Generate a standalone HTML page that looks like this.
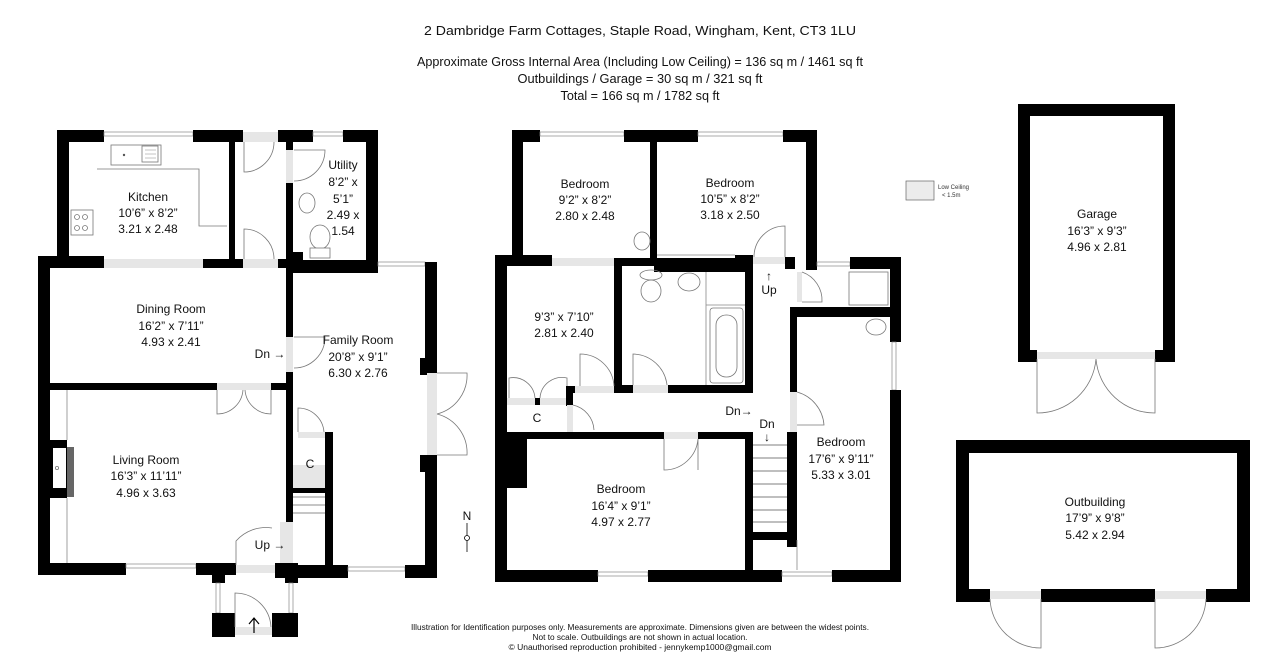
<!DOCTYPE html>
<html><head><meta charset="utf-8"><style>
html,body{margin:0;padding:0;background:#fff;}
svg{display:block;font-family:"Liberation Sans",sans-serif;}
.w{fill:#000}
.g{fill:#e6e6e6}
.d{fill:none;stroke:#777;stroke-width:0.8}
.win{fill:#fff;stroke:#888;stroke-width:0.7}
.t{font-size:12px;text-anchor:middle;fill:#111;dominant-baseline:central}
.s{font-size:12.5px;text-anchor:middle;fill:#111}
.f{font-size:8px;text-anchor:middle;fill:#111}
</style></head><body>
<svg width="1280" height="667" viewBox="0 0 1280 667" xmlns="http://www.w3.org/2000/svg">
<text class="s" x="640" y="35" font-size="13" textLength="432" lengthAdjust="spacingAndGlyphs">2 Dambridge Farm Cottages, Staple Road, Wingham, Kent, CT3 1LU</text>
<text class="s" x="640" y="66" textLength="446" lengthAdjust="spacingAndGlyphs">Approximate Gross Internal Area (Including Low Ceiling) = 136 sq m / 1461 sq ft</text>
<text class="s" x="640" y="83" textLength="245" lengthAdjust="spacingAndGlyphs">Outbuildings / Garage = 30 sq m / 321 sq ft</text>
<text class="s" x="640" y="100" textLength="159" lengthAdjust="spacingAndGlyphs">Total = 166 sq m / 1782 sq ft</text>

<rect class="w" x="57" y="130" width="47" height="12"/>
<rect class="win" x="104" y="132" width="89" height="4"/>
<rect class="w" x="193" y="130" width="50" height="12"/>
<rect class="g" x="243" y="132" width="35" height="10"/>
<rect class="w" x="278" y="130" width="35" height="12"/>
<rect class="win" x="313" y="132" width="30" height="4"/>
<rect class="w" x="343" y="130" width="35" height="12"/>
<rect class="w" x="57" y="130" width="12" height="138"/>
<rect class="w" x="229" y="142" width="6" height="126"/>
<rect class="w" x="366" y="130" width="12" height="142"/>
<rect class="w" x="286" y="142" width="7" height="8"/>
<rect class="g" x="286" y="150" width="7" height="33"/>
<rect class="w" x="286" y="183" width="7" height="95"/>
<rect class="w" x="286" y="252" width="17" height="20"/>
<rect class="w" x="293" y="260" width="85" height="12"/>
<rect class="w" x="38" y="256" width="66" height="12"/>
<rect class="g" x="104" y="259" width="99" height="9"/>
<rect class="w" x="203" y="259" width="40" height="9"/>
<rect class="g" x="243" y="259" width="35" height="9"/>
<rect class="w" x="278" y="259" width="15" height="9"/>
<rect x="142" y="146" width="16" height="16" fill="#fff" stroke="#777" stroke-width="0.8"/>
<rect x="111" y="145" width="50" height="20" fill="none" stroke="#777" stroke-width="0.8"/>
<circle cx="124" cy="155" r="1.2" fill="#555"/>
<g stroke="#888" stroke-width="0.5"><line x1="145" y1="150" x2="156" y2="150"/><line x1="145" y1="154" x2="156" y2="154"/><line x1="145" y1="158" x2="156" y2="158"/></g>
<path class="d" d="M97,169 H199 V226 H227"/>
<rect x="71" y="210" width="22" height="25" fill="#fff" stroke="#777" stroke-width="0.8"/>
<circle cx="77" cy="217" r="2.5" class="d"/><circle cx="85" cy="217" r="2.5" class="d"/>
<circle cx="77" cy="228" r="2.5" class="d"/><circle cx="85" cy="228" r="2.5" class="d"/>
<path class="d" d="M244,142 V172 A30,30 0 0 0 274,142"/>
<path class="d" d="M244,259 V229 A30,30 0 0 1 274,259"/>
<path class="d" d="M294,150 H325 A31,31 0 0 1 294,181"/>
<ellipse cx="307" cy="203" rx="8" ry="10" class="d"/>
<ellipse cx="320" cy="237" rx="10" ry="12" class="d"/>
<rect x="310" y="248" width="20" height="10" fill="#fff" stroke="#777" stroke-width="0.8"/>
<rect class="w" x="38" y="256" width="12" height="318"/>
<rect class="w" x="286" y="268" width="7" height="69"/>
<rect class="g" x="286" y="337" width="7" height="35"/>
<rect class="w" x="286" y="372" width="7" height="150"/>
<rect class="g" x="280" y="522" width="13" height="43"/>
<path class="d" d="M294,337 H325 A31,31 0 0 1 294,368"/>
<rect class="w" x="38" y="383" width="179" height="7"/>
<rect class="g" x="217" y="383" width="54" height="7"/>
<rect class="w" x="271" y="383" width="22" height="7"/>
<path class="d" d="M217,390 V414 A26,26 0 0 0 243,390 M271,390 V414 A26,26 0 0 1 245,390"/>
<rect class="w" x="50" y="440" width="17" height="58"/>
<rect x="53" y="448" width="13" height="40" fill="#fff"/>
<circle cx="57" cy="468" r="1.6" class="d"/>
<rect x="67" y="447" width="7" height="50" fill="#666"/>
<line x1="67" y1="390" x2="67" y2="440" stroke="#888" stroke-width="0.8"/>
<line x1="67" y1="498" x2="67" y2="563" stroke="#888" stroke-width="0.8"/>
<rect class="w" x="38" y="563" width="88" height="12"/>
<rect class="win" x="126" y="564" width="70" height="4"/>
<rect class="w" x="196" y="563" width="40" height="12"/>
<rect class="g" x="236" y="565" width="39" height="8"/>
<rect class="w" x="275" y="563" width="23" height="15"/>
<path class="d" d="M236,565 V541 A40,40 0 0 1 272,528"/>
<rect class="w" x="293" y="260" width="85" height="13"/>
<rect class="win" x="378" y="262" width="47" height="4"/>
<rect class="w" x="425" y="262" width="12" height="111"/>
<rect class="w" x="420" y="358" width="10" height="17"/>
<rect class="g" x="427" y="373" width="10" height="82"/>
<rect class="w" x="425" y="455" width="12" height="123"/>
<rect class="w" x="420" y="455" width="10" height="17"/>
<path class="d" d="M437,373 H467 A40,40 0 0 1 437,414 M437,455 H467 A40,40 0 0 0 437,414"/>
<rect class="w" x="293" y="565" width="55" height="13"/>
<rect class="win" x="348" y="567" width="57" height="4"/>
<rect class="w" x="405" y="565" width="32" height="13"/>
<rect class="g" x="298" y="432" width="27" height="6"/>
<path class="d" d="M298,432 V408 A26,26 0 0 1 324,432"/>
<rect class="w" x="325" y="432" width="8" height="136"/>
<rect class="g" x="293" y="465" width="32" height="23"/>
<rect class="w" x="293" y="488" width="32" height="5"/>
<g stroke="#666" stroke-width="0.8"><line x1="293" y1="497" x2="325" y2="497"/><line x1="293" y1="505" x2="325" y2="505"/><line x1="293" y1="513" x2="325" y2="513"/></g>
<rect class="w" x="212" y="568" width="13" height="15"/>
<rect class="w" x="285" y="568" width="13" height="15"/>
<rect class="win" x="216" y="583" width="4" height="30"/>
<rect class="win" x="289" y="583" width="4" height="30"/>
<rect class="w" x="212" y="613" width="23" height="24"/>
<rect class="w" x="272" y="613" width="26" height="24"/>
<rect class="g" x="235" y="627" width="37" height="8"/>
<path class="d" d="M235,627 V593 A36,36 0 0 1 271,627"/>
<path d="M254,633 V618 M249,624 L254,618 L259,624" stroke="#000" fill="none" stroke-width="1.2"/>

<g class="t">
<text x="148" y="197">Kitchen</text><text x="148" y="213">10’6” x 8’2”</text><text x="148" y="229">3.21 x 2.48</text>
<text x="343" y="165">Utility</text><text x="343" y="182">8’2” x</text><text x="343" y="199">5’1”</text><text x="343" y="215">2.49 x</text><text x="343" y="231">1.54</text>
<text x="171" y="309">Dining Room</text><text x="171" y="326">16’2” x 7’11”</text><text x="171" y="342">4.93 x 2.41</text>
<text x="358" y="340">Family Room</text><text x="358" y="357">20’8” x 9’1”</text><text x="358" y="373">6.30 x 2.76</text>
<text x="146" y="460">Living Room</text><text x="146" y="476">16’3” x 11’11”</text><text x="146" y="493">4.96 x 3.63</text>
<text x="310" y="464">C</text>
<text x="270" y="354">Dn →</text>
<text x="270" y="545">Up →</text>
</g>

<rect class="w" x="512" y="130" width="28" height="12"/>
<rect class="win" x="540" y="132" width="84" height="4"/>
<rect class="w" x="624" y="130" width="74" height="12"/>
<rect class="win" x="698" y="132" width="85" height="4"/>
<rect class="w" x="783" y="130" width="34" height="12"/>
<rect class="w" x="512" y="130" width="11" height="130"/>
<rect class="w" x="650" y="130" width="7" height="128"/>
<rect class="w" x="806" y="130" width="11" height="140"/>
<ellipse cx="642" cy="241" rx="8" ry="9" class="d"/>
<line x1="657" y1="255" x2="735" y2="255" stroke="#888" stroke-width="0.8"/>
<rect class="w" x="495" y="255" width="57" height="11"/>
<rect class="g" x="552" y="258" width="66" height="8"/>
<rect class="w" x="618" y="258" width="36" height="8"/>
<rect class="w" x="654" y="258" width="99" height="14"/>
<rect class="w" x="735" y="255" width="18" height="8"/>
<rect class="g" x="753" y="257" width="32" height="7"/>
<path class="d" d="M785,257 V226 A31,31 0 0 0 754,257"/>
<rect class="w" x="785" y="257" width="10" height="12"/>
<rect class="win" x="817" y="262" width="33" height="4"/>
<rect class="w" x="850" y="257" width="50" height="12"/>
<rect class="w" x="890" y="257" width="11" height="85"/>
<rect class="win" x="892" y="342" width="4" height="48"/>
<rect class="w" x="890" y="390" width="11" height="192"/>
<rect class="w" x="614" y="258" width="8" height="134"/>
<rect class="w" x="745" y="258" width="8" height="134"/>
<rect class="w" x="614" y="385" width="19" height="8"/>
<rect class="g" x="633" y="385" width="35" height="8"/>
<rect class="w" x="668" y="385" width="85" height="8"/>
<path class="d" d="M633,385 V354 A35,35 0 0 1 667,385"/>
<ellipse cx="651" cy="291" rx="10" ry="11" class="d"/>
<ellipse cx="651" cy="275" rx="11" ry="5" class="d"/>
<ellipse cx="689" cy="282" rx="11" ry="9" class="d"/>
<line x1="706" y1="272" x2="706" y2="385" stroke="#888" stroke-width="0.8"/>
<rect x="710" y="308" width="33" height="75" rx="3" class="d"/>
<rect x="716" y="315" width="21" height="62" rx="10" class="d"/>
<line x1="706" y1="305" x2="745" y2="305" stroke="#888" stroke-width="0.8"/>
<rect class="w" x="495" y="255" width="12" height="327"/>
<rect class="w" x="566" y="386" width="9" height="7"/>
<rect class="g" x="575" y="386" width="39" height="7"/>
<path class="d" d="M580,386 V354 A34,34 0 0 1 614,386"/>
<rect class="g" x="507" y="398" width="60" height="7"/>
<rect class="w" x="535" y="398" width="5" height="7"/>
<path class="d" d="M509,398 V378 A22,22 0 0 1 535,398 M567,398 V378 A22,22 0 0 0 540,398"/>
<rect class="w" x="566" y="386" width="7" height="20"/>
<rect class="g" x="567" y="405" width="6" height="27"/>
<path class="d" d="M573,405 A27,27 0 0 1 594,430"/>
<rect class="w" x="507" y="432" width="157" height="7"/>
<rect class="g" x="664" y="432" width="34" height="7"/>
<rect class="w" x="698" y="432" width="54" height="7"/>
<path class="d" d="M664,439 V470 A34,34 0 0 0 698,439 V470"/>
<rect class="w" x="507" y="438" width="20" height="50"/>
<rect class="w" x="745" y="432" width="8" height="150"/>
<rect class="w" x="787" y="432" width="10" height="115"/>
<rect class="w" x="790" y="310" width="7" height="82"/>
<rect class="g" x="790" y="392" width="7" height="40"/>
<path class="d" d="M797,392 A37,37 0 0 1 824,425 H797"/>
<rect class="w" x="790" y="307" width="110" height="10"/>
<rect class="g" x="797" y="272" width="5" height="30"/>
<path class="d" d="M802,272 A30,30 0 0 1 822,302 H802"/>
<g stroke="#555" stroke-width="0.8">
<line x1="753" y1="445" x2="787" y2="445"/><line x1="753" y1="458" x2="787" y2="458"/>
<line x1="753" y1="471" x2="787" y2="471"/><line x1="753" y1="484" x2="787" y2="484"/>
<line x1="753" y1="497" x2="787" y2="497"/><line x1="753" y1="510" x2="787" y2="510"/>
<line x1="753" y1="522" x2="787" y2="522"/>
</g>
<rect class="w" x="752" y="532" width="45" height="8"/>
<line x1="797" y1="540" x2="797" y2="570" stroke="#888" stroke-width="0.8"/>
<rect x="849" y="272" width="39" height="33" class="d"/>
<ellipse cx="876" cy="327" rx="10" ry="8" class="d"/>
<rect class="w" x="495" y="570" width="103" height="12"/>
<rect class="win" x="598" y="572" width="50" height="4"/>
<rect class="w" x="648" y="570" width="134" height="12"/>
<rect class="win" x="782" y="572" width="50" height="4"/>
<rect class="w" x="832" y="570" width="69" height="12"/>

<g class="t">
<text x="585" y="184">Bedroom</text><text x="585" y="200">9’2” x 8’2”</text><text x="585" y="216">2.80 x 2.48</text>
<text x="730" y="183">Bedroom</text><text x="730" y="199">10’5” x 8’2”</text><text x="730" y="215">3.18 x 2.50</text>
<text x="564" y="317">9’3” x 7’10”</text><text x="564" y="333">2.81 x 2.40</text>
<text x="537" y="418">C</text>
<text x="739" y="411">Dn→</text>
<text x="767" y="424">Dn</text><text x="767" y="437">↓</text>
<text x="769" y="276">↑</text><text x="769" y="290">Up</text>
<text x="621" y="489">Bedroom</text><text x="621" y="506">16’4” x 9’1”</text><text x="621" y="522">4.97 x 2.77</text>
<text x="841" y="442">Bedroom</text><text x="841" y="459">17’6” x 9’11”</text><text x="841" y="475">5.33 x 3.01</text>
</g>
<text class="t" x="467" y="516" font-size="11">N</text>
<line x1="467" y1="523" x2="467" y2="552" stroke="#000" stroke-width="0.8"/>
<circle cx="467" cy="538" r="2.5" fill="#fff" stroke="#000" stroke-width="0.8"/>

<rect x="906" y="181" width="28" height="19" fill="#ececec" stroke="#666" stroke-width="0.7"/>
<text x="938" y="189" font-size="6" fill="#333">Low Ceiling</text>
<text x="942" y="197" font-size="6" fill="#333">&lt; 1.5m</text>

<rect class="w" x="1018" y="104" width="157" height="12"/>
<rect class="w" x="1018" y="104" width="12" height="258"/>
<rect class="w" x="1163" y="104" width="12" height="258"/>
<rect class="w" x="1018" y="350" width="19" height="12"/>
<rect class="w" x="1155" y="350" width="20" height="12"/>
<rect class="g" x="1037" y="352" width="118" height="7"/>
<path class="d" d="M1037,359 V413 A59,59 0 0 0 1096,359 A59,59 0 0 0 1155,413 V359"/>
<g class="t"><text x="1097" y="214">Garage</text><text x="1097" y="231">16’3” x 9’3”</text><text x="1097" y="247">4.96 x 2.81</text></g>

<rect class="w" x="956" y="440" width="294" height="13"/>
<rect class="w" x="956" y="440" width="13" height="162"/>
<rect class="w" x="1237" y="440" width="13" height="162"/>
<rect class="w" x="956" y="589" width="34" height="13"/>
<rect class="g" x="990" y="591" width="51" height="8"/>
<rect class="w" x="1041" y="589" width="114" height="13"/>
<rect class="g" x="1155" y="591" width="51" height="8"/>
<rect class="w" x="1206" y="589" width="44" height="13"/>
<path class="d" d="M990,599 A51,51 0 0 0 1041,648 V599 M1206,599 A51,51 0 0 1 1155,648 V599"/>
<g class="t"><text x="1095" y="502">Outbuilding</text><text x="1095" y="518">17’9” x 9’8”</text><text x="1095" y="535">5.42 x 2.94</text></g>

<text class="f" x="640" y="630" textLength="458" lengthAdjust="spacingAndGlyphs">Illustration for Identification purposes only.  Measurements are approximate. Dimensions given are between the widest points.</text>
<text class="f" x="640" y="640" textLength="215" lengthAdjust="spacingAndGlyphs">Not to scale.  Outbuildings are not shown in actual location.</text>
<text class="f" x="640" y="650" textLength="263" lengthAdjust="spacingAndGlyphs">© Unauthorised reproduction prohibited  -  jennykemp1000@gmail.com</text>
</svg>
</body></html>
